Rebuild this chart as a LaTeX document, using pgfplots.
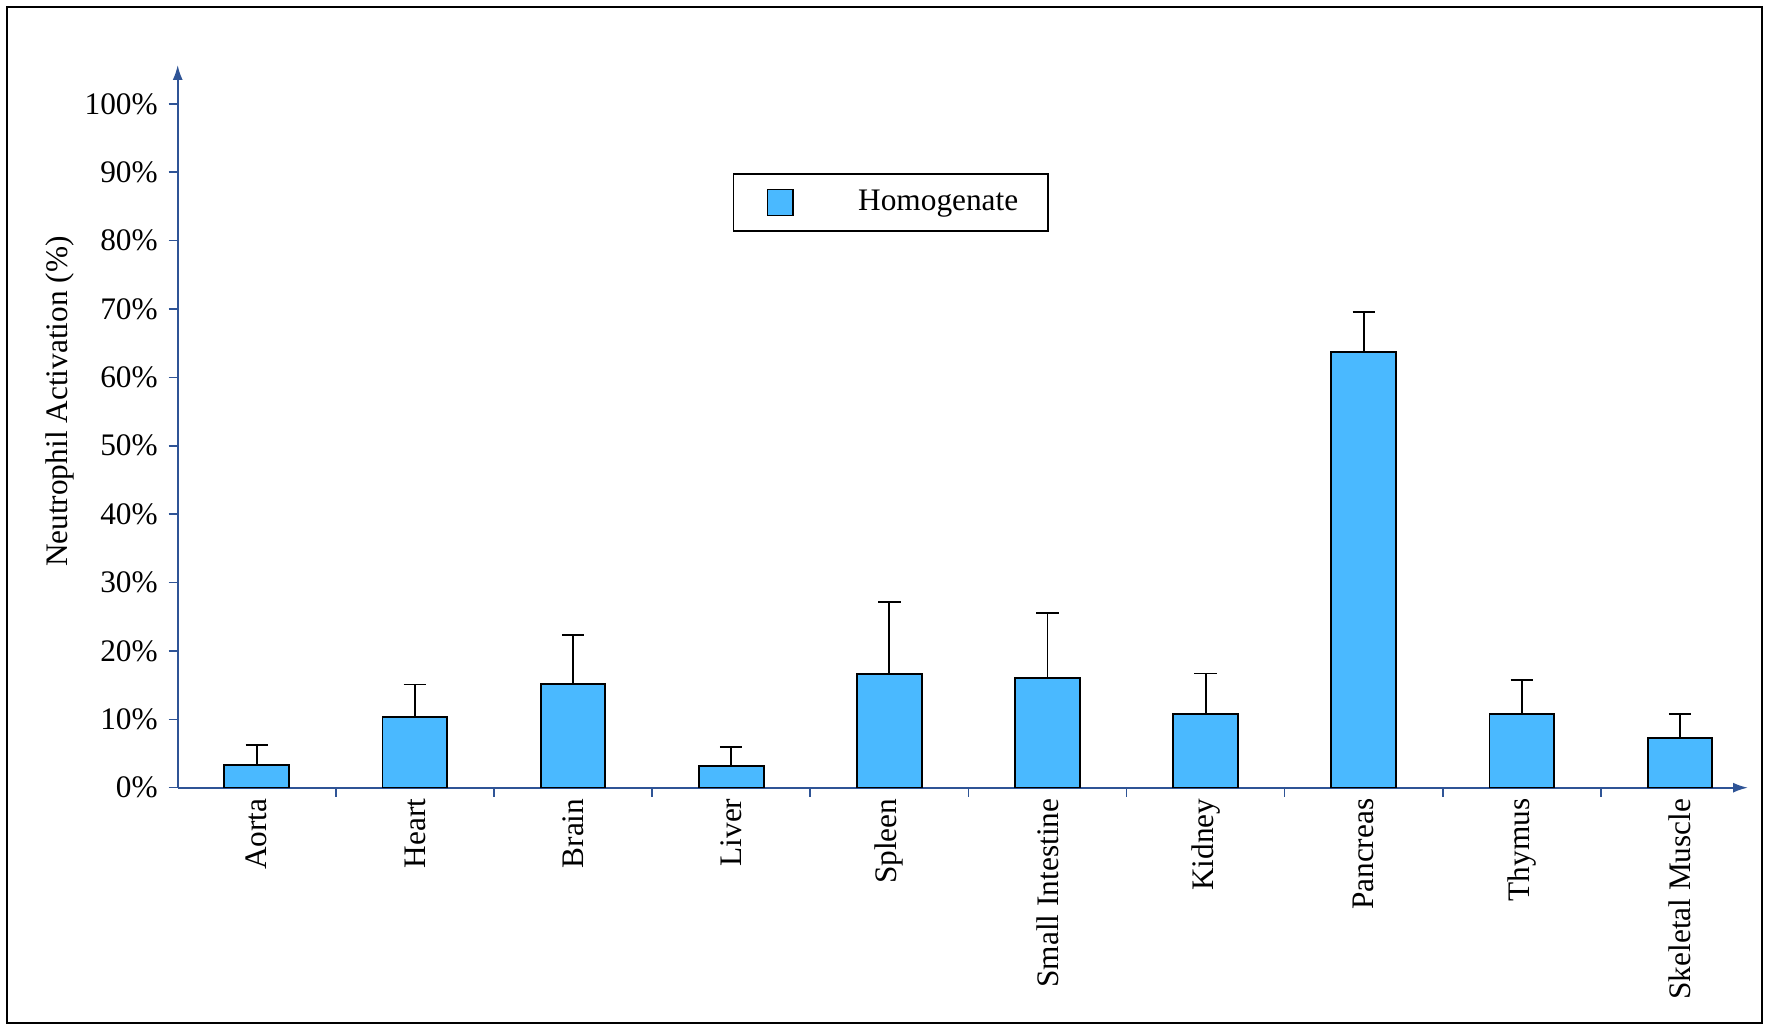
\documentclass[border=0pt,12pt]{standalone}
\usepackage{fontspec}
\setmainfont{Liberation Serif}
\usepackage{pgfplots}
\pgfplotsset{compat=1.18}
\usetikzlibrary{arrows.meta}
\definecolor{axblue}{RGB}{47,84,150}
\definecolor{barblue}{RGB}{74,185,255}
\begin{document}
\begin{tikzpicture}[x=0.3831pt,y=0.3831pt]
\path[use as bounding box] (0,0) rectangle (1769,1026);
\draw[line width=0.8pt] (7.3,3) rectangle (1761.7,1019);
\begin{axis}[
  at={(68.08pt,91.29pt)}, anchor=south west,
  scale only axis, width=601.6pt, height=276.9pt,
  xmin=-0.5, xmax=9.43, ymin=0, ymax=105.7,
  axis lines=left,
  axis line style={draw=axblue, line width=0.75pt, -{Latex[length=5.7pt,width=3.8pt]}},
  tick style={draw=axblue, line width=0.6pt},
  major tick length=3.45pt,
  tick align=outside,
  xtick={0.5,1.5,...,8.5}, xticklabels={},
  extra x ticks={0,1,2,3,4,5,6,7,8,9},
  extra x tick labels={Aorta,Heart,Brain,Liver,Spleen,Small Intestine,Kidney,Pancreas,Thymus,Skeletal Muscle},
  extra x tick style={major tick length=0pt, tick label style={rotate=90, anchor=east}},
  ytick={0,10,...,100},
  yticklabels={0\%,10\%,20\%,30\%,40\%,50\%,60\%,70\%,80\%,90\%,100\%},
  ylabel={Neutrophil Activation (\%)},
  every axis y label/.style={at={(axis description cs:-0.075,0.534)}, rotate=90, anchor=center},
  ybar, bar width=0.41,
  legend style={at={(axis description cs:0.3534,0.850)}, anchor=north west, draw=black, line width=0.6pt, inner sep=0pt, nodes={inner sep=0pt}},
]
\addplot[draw=black, line width=0.75pt, fill=barblue,
  legend image code/.code={\path[draw=none,fill=none] (-13pt,-10.85pt) rectangle (34.8pt,10.85pt); \draw[fill=barblue, draw=black, line width=0.5pt] (0pt,-4.9pt) rectangle (9.8pt,4.9pt);},
  error bars/.cd, y dir=plus, y explicit, error mark=|,
  error bar style={line width=0.7pt, black},
  error mark options={line width=0.7pt, mark size=4.3pt, black}]
coordinates {
(0,3.3) +- (0,3.0)
(1,10.3) +- (0,4.8)
(2,15.1) +- (0,7.2)
(3,3.2) +- (0,2.8)
(4,16.6) +- (0,10.5)
(5,16.0) +- (0,9.6)
(6,10.8) +- (0,5.9)
(7,63.7) +- (0,5.9)
(8,10.8) +- (0,5.0)
(9,7.3) +- (0,3.5)
};
\addlegendentry{Homogenate\hspace*{11.5pt}}
\end{axis}
\end{tikzpicture}
\end{document}
